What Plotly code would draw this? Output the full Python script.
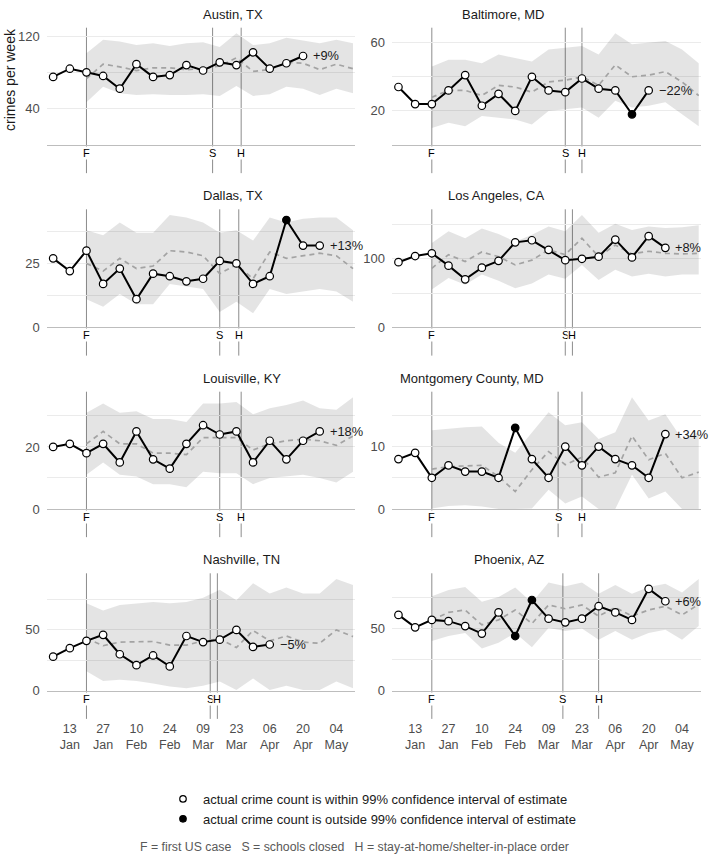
import plotly.graph_objects as go
import pandas as pd

# ---------------- data ----------------
city_names = ["Austin, TX", "Baltimore, MD", "Dallas, TX", "Los Angeles, CA",
              "Louisville, KY", "Montgomery County, MD", "Nashville, TN", "Phoenix, AZ"]

actual_start = "2020-01-06"
estimate_start = "2020-01-20"
first_case_date = "2020-01-20"

austin_actual = [75, 84, 80, 76, 62, 89, 75, 77, 88, 82, 91, 88, 102, 84, 90, 98]
austin_est = [73, 89, 86, 82, 85, 85, 83, 84, 87, 96, 81, 83, 91, 90, 83, 89, 84]
austin_upper = [101, 116, 114, 110, 112, 109, 112, 113, 108, 123, 110, 112, 118, 115, 112, 116, 112]
austin_lower = [47, 64, 57, 55, 56, 55, 55, 56, 54, 65, 54, 56, 64, 62, 55, 62, 57]

baltimore_actual = [34, 24, 24, 32, 41, 23, 30, 20, 40, 32, 31, 39, 33, 32, 18, 32]
baltimore_est = [28, 32, 32, 29, 35, 34, 31, 37, 38, 40, 35, 47, 40, 41, 43, 37, 29]
baltimore_upper = [46, 50, 50, 48, 53, 51, 49, 56, 57, 58, 53, 65.5, 59, 60, 61, 56, 48]
baltimore_lower = [10, 13, 11, 17, 16, 15, 12, 20, 21, 22, 16, 26, 22, 23, 25, 18, 11]

dallas_actual = [27, 22, 30, 17, 23, 11, 21, 20, 18, 19, 26, 25, 17, 20, 42, 32, 32]
dallas_est = [25, 22, 27, 23, 24, 30, 29.5, 28, 21, 24.5, 19, 29.5, 27, 28, 29, 28, 23]
dallas_upper = [38, 36, 41, 37, 37, 44, 43, 41, 37, 38, 34, 43, 41, 42.5, 43, 43, 38]
dallas_lower = [11, 8, 13, 9, 9, 17, 16, 15, 6, 10, 5.5, 15, 13, 14, 15, 14, 10]

la_actual = [95, 104, 108, 90, 70, 87, 97, 124, 127, 113, 98, 100, 103, 128, 102, 133, 116]
la_est = [86, 106, 96, 110, 103, 91, 98, 113, 106, 130, 103, 120, 107, 111, 108, 107, 108]
la_upper = [123, 140, 130, 144, 136, 125, 135, 147, 140, 164, 138, 151, 142, 147, 145, 146, 149]
la_lower = [55, 72, 62, 77, 68, 57, 64, 77, 71, 91, 69, 84, 74, 78, 74, 77, 77]

louisville_actual = [20, 21, 18, 21, 15, 25, 16, 13, 21, 27, 24, 25, 15, 22, 16, 22, 25]
louisville_est = [21, 25, 21, 21, 18, 18, 17.5, 23, 23, 23, 19, 21, 22, 22.5, 22, 20.5, 23.5]
louisville_upper = [31, 34, 31, 31.5, 29, 29, 28, 34, 34, 34.5, 30.5, 32.5, 33.5, 35, 32.5, 32, 36]
louisville_lower = [11, 15, 11, 10.5, 8, 8, 7, 12, 11.5, 11.5, 8, 10, 10.5, 11, 10, 8.5, 12]

montgomery_actual = [8, 9, 5, 7, 6, 6, 5, 13, 8, 5, 10, 7, 10, 8, 7, 5, 12]
montgomery_est = [6.4, 6.8, 6.9, 7, 5.2, 2.8, 6.3, 9.2, 7.1, 8.3, 5.1, 5.8, 11.7, 7.9, 8.9, 5, 5.9]
montgomery_upper = [12.6, 12.9, 13.1, 13.2, 10.6, 9, 12.3, 15.5, 13.4, 13.9, 11.2, 12.3, 17.9, 14.2, 15.2, 11.2, 12.3]
montgomery_lower = [0.1, 0.5, 0.6, 0.4, 0, 0, 0.1, 3.1, 0.9, 2, 0, 0, 5.5, 1.7, 2.8, 0, 0]

nashville_actual = [28, 35, 41, 46, 30, 21, 29, 20, 45, 40, 42, 50, 36, 38]
nashville_est = [43, 37, 40, 40, 40.5, 37.5, 37.5, 41, 42.5, 35.5, 49.5, 41, 45, 40, 39, 50, 44.5]
nashville_upper = [72, 66, 70.5, 71.5, 73, 72, 73, 76.5, 83, 74.5, 88.5, 80, 85, 80, 80, 92, 87]
nashville_lower = [16, 8, 9, 8, 6, 3.5, 2, 4, 7.5, 0.5, 10, 0.5, 4, 0.5, 0.5, 7.5, 2]

phoenix_actual = [61, 51, 57, 56, 52, 46, 63, 44, 73, 58, 55, 58, 68, 63, 57, 82, 72]
phoenix_est = [57, 63, 65, 53, 57, 65, 54, 69, 66, 69, 60, 67, 60, 65, 68, 61, 69.5]
phoenix_upper = [76, 81, 83.5, 71.5, 75.5, 83, 71, 87, 84, 87, 78, 85, 78, 83.5, 86, 79, 90]
phoenix_lower = [40, 44, 46.5, 34, 38.5, 46.5, 35, 50.5, 48, 50, 41, 48, 41, 46.5, 49, 41, 52]

# indices of weeks where the actual count is outside the 99% interval
outside_idx = [[], [14], [14], [], [], [7], [], [7, 8]]

pct_labels = ["+9%", "\u221222%", "+13%", "+8%", "+18%", "+34%", "\u22125%", "+6%"]
school_dates = ["2020-03-13", "2020-03-16", "2020-03-16", "2020-03-16",
                "2020-03-16", "2020-03-13", "2020-03-12", "2020-03-15"]
home_dates = ["2020-03-25", "2020-03-23", "2020-03-24", "2020-03-19",
              "2020-03-25", "2020-03-23", "2020-03-15", "2020-03-30"]

ytick_labels = [[40, 120], [20, 60], [0, 25], [0, 100], [0, 20], [0, 10], [0, 50], [0, 50]]
ygrid_vals = [[0, 40, 80, 120], [0, 20, 40, 60], [0, 12.5, 25, 37.5], [0, 50, 100, 150],
              [0, 10, 20, 30], [0, 5, 10, 15], [0, 25, 50, 75], [0, 25, 50, 75]]

xtick_dates = ["2020-01-13", "2020-01-27", "2020-02-10", "2020-02-24", "2020-03-09",
               "2020-03-23", "2020-04-06", "2020-04-20", "2020-05-04"]

actual_series = [austin_actual, baltimore_actual, dallas_actual, la_actual,
                 louisville_actual, montgomery_actual, nashville_actual, phoenix_actual]
est_series = [austin_est, baltimore_est, dallas_est, la_est,
              louisville_est, montgomery_est, nashville_est, phoenix_est]
upper_series = [austin_upper, baltimore_upper, dallas_upper, la_upper,
                louisville_upper, montgomery_upper, nashville_upper, phoenix_upper]
lower_series = [austin_lower, baltimore_lower, dallas_lower, la_lower,
                louisville_lower, montgomery_lower, nashville_lower, phoenix_lower]

# ---------------- layout geometry ----------------
W, H = 709, 856
col_px = [(46.7, 355.0), (392.0, 700.7)]
row_px = [(27.7, 145.0), (209.3, 327.3), (391.7, 509.0), (573.3, 690.7)]
x_range = ["2020-01-03 07:00", "2020-05-11 20:00"]

FONT = "Liberation Sans, Arial, Helvetica, sans-serif"
fig = go.Figure()
annotations = []
shapes = []
layout_axes = {}

for i, name in enumerate(city_names):
    r, c = divmod(i, 2)
    sfx = "" if i == 0 else str(i + 1)
    xa, ya = "x" + sfx, "y" + sfx
    xdom = [col_px[c][0] / W, col_px[c][1] / W]
    ydom = [1 - row_px[r][1] / H, 1 - row_px[r][0] / H]

    act = actual_series[i]
    act_dates = pd.date_range(actual_start, periods=len(act), freq="7D")
    est = est_series[i]
    est_dates = pd.date_range(estimate_start, periods=len(est), freq="7D")
    up, lo = upper_series[i], lower_series[i]

    # confidence band
    fig.add_trace(go.Scatter(
        x=list(est_dates) + list(est_dates[::-1]), y=list(up) + list(lo[::-1]),
        fill="toself", fillcolor="rgba(0,0,0,0.105)", line=dict(width=0),
        mode="lines", hoverinfo="skip", showlegend=False, xaxis=xa, yaxis=ya))
    # estimate
    fig.add_trace(go.Scatter(
        x=est_dates, y=est, mode="lines",
        line=dict(color="#a3a3a3", width=1.7, dash="5px,4px"),
        showlegend=False, xaxis=xa, yaxis=ya))
    # actual
    colors = ["black" if k in outside_idx[i] else "white" for k in range(len(act))]
    fig.add_trace(go.Scatter(
        x=act_dates, y=act, mode="lines+markers",
        line=dict(color="black", width=2),
        marker=dict(size=7.5, color=colors, line=dict(color="black", width=1.2)),
        showlegend=False, xaxis=xa, yaxis=ya, cliponaxis=False))

    top = 1.05 * max(max(up), max(act))
    layout_axes["xaxis" + sfx] = dict(
        domain=xdom, anchor=ya, type="date", range=x_range, automargin=False,
        showgrid=False, zeroline=False, showline=True, linecolor="#bdbdbd", linewidth=1,
        ticks="", tickvals=xtick_dates, tickformat="%d<br>%b",
        showticklabels=(r == 3), ticklabelstandoff=26,
        tickfont=dict(size=12.5, color="#4d4d4d", family=FONT))
    layout_axes["yaxis" + sfx] = dict(
        domain=ydom, anchor=xa, range=[0, top], automargin=False,
        tickvals=ygrid_vals[i],
        ticktext=[(f"{v:g}" if v in ytick_labels[i] else "") for v in ygrid_vals[i]],
        showgrid=True, gridcolor="#ebebeb", gridwidth=1, zeroline=False, showline=False,
        ticks="", ticklabelstandoff=6,
        tickfont=dict(size=13, color="#4d4d4d", family=FONT))

    # event lines and letters
    for d, letter in [(first_case_date, "F"), (school_dates[i], "S"), (home_dates[i], "H")]:
        shapes.append(dict(type="line", xref=xa, yref=ya + " domain", x0=d, x1=d,
                           y0=-0.24, y1=1, line=dict(color="#8c8c8c", width=1), layer="below"))
        annotations.append(dict(xref=xa, yref=ya + " domain", x=d, y=0, yanchor="top",
                                yshift=-1, text=letter, showarrow=False, bgcolor="white",
                                borderpad=0, font=dict(size=11, color="black", family=FONT)))

    # percent label
    annotations.append(dict(xref=xa, yref=ya, x=act_dates[-1], y=act[-1], xanchor="left",
                            xshift=8, text=pct_labels[i], showarrow=False,
                            font=dict(size=12.8, color="#1a1a1a", family=FONT)))
    # panel title
    annotations.append(dict(xref="paper", yref="paper", x=(xdom[0] + xdom[1]) / 2, y=ydom[1],
                            yanchor="middle", yshift=13.5, text=name, showarrow=False,
                            font=dict(size=13, color="#1a1a1a", family=FONT)))

# y-axis title
annotations.append(dict(xref="paper", yref="paper", x=10 / W, y=1 - 80 / H, text="crimes per week",
                        textangle=-90, showarrow=False, xanchor="center", yanchor="middle",
                        font=dict(size=14, color="#1a1a1a", family=FONT)))
# caption
annotations.append(dict(xref="paper", yref="paper", x=354 / W, y=1 - 847 / H,
                        text="F = first US case   S = schools closed   H = stay-at-home/shelter-in-place order",
                        showarrow=False, yanchor="middle",
                        font=dict(size=12.3, color="#595959", family=FONT)))

# legend entries
fig.add_trace(go.Scatter(x=[None], y=[None], mode="markers",
                         marker=dict(size=6.5, color="white", line=dict(color="black", width=1.2)),
                         name="actual crime count is within 99% confidence interval of estimate"))
fig.add_trace(go.Scatter(x=[None], y=[None], mode="markers",
                         marker=dict(size=6.5, color="black", line=dict(color="black", width=1.2)),
                         name="actual crime count is outside 99% confidence interval of estimate"))

fig.update_layout(
    width=W, height=H, margin=dict(l=0, r=0, t=0, b=0, autoexpand=False),
    paper_bgcolor="white", plot_bgcolor="white",
    font=dict(family=FONT, color="#1a1a1a"),
    shapes=shapes, annotations=annotations,
    legend=dict(x=163 / W, y=1 - 784 / H, xanchor="left", yanchor="top",
                font=dict(size=13, color="#1a1a1a", family=FONT), bgcolor="rgba(0,0,0,0)",
                tracegroupgap=0),
    **layout_axes,
)

fig.write_html("out.html", config={"displayModeBar": False},
               post_script="document.body.style.margin='0';")
